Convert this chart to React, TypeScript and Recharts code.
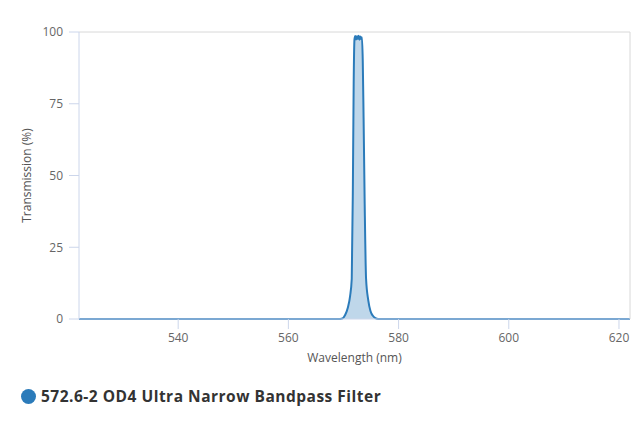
import {
  ComposedChart,
  Area,
  XAxis,
  YAxis,
  ReferenceLine,
  Label,
} from "recharts";

const wavelength = [
  522, 540, 560, 569.0, 569.8, 570.3, 570.8, 571.2, 571.5, 571.7, 571.85, 572.0,
  572.15, 572.3, 572.45, 572.6, 572.75, 572.9, 573.05, 573.2, 573.35, 573.5,
  573.65, 573.85, 574.1, 574.5, 574.9, 575.3, 575.8, 576.3, 580, 600, 622,
];
const transmission = [
  0, 0, 0, 0, 0.2, 1.4, 4, 8, 14, 45, 82, 97.5,
  98.6, 97.4, 98.5, 97.6, 98.7, 97.3, 98.4, 97.6, 98.2, 90,
  70, 40, 14, 6.5, 2.8, 1.2, 0.3, 0, 0, 0, 0,
];
const xTicks = [540, 560, 580, 600, 620];
const yTicks = [0, 25, 50, 75, 100];
const seriesName = "572.6-2 OD4 Ultra Narrow Bandpass Filter";

const data = wavelength.map((w, i) => ({ w, t: transmission[i] }));

const color = "#2b7bba";

export default function App() {
  return (
    <div style={{ position: "absolute", left: 0, top: 0, width: 640, height: 427, background: "#fff" }}>
      <ComposedChart
        width={640}
        height={369}
        data={data}
        margin={{ top: 32, right: 10, left: 0, bottom: 0 }}
        style={{ fontFamily: "'Open Sans', sans-serif" }}
      >
        <XAxis
          dataKey="w"
          type="number"
          domain={[522, 622]}
          ticks={xTicks}
          allowDataOverflow
          height={50}
          tickSize={10}
          tickMargin={4}
          stroke="#ccd6eb"
          tick={{ fill: "#666", fontSize: 12 }}
        >
          <Label
            value="Wavelength (nm)"
            position="insideBottom"
            offset={7}
            style={{ fill: "#555", fontSize: 12 }}
          />
        </XAxis>
        <YAxis
          type="number"
          domain={[0, 100]}
          ticks={yTicks}
          width={79}
          tickSize={10}
          tickMargin={6}
          stroke="#ccd6eb"
          tick={{ fill: "#666", fontSize: 12 }}
        >
          <Label
            value="Transmission (%)"
            angle={-90}
            position="insideLeft"
            offset={27}
            style={{ fill: "#555", fontSize: 12, textAnchor: "middle" }}
          />
        </YAxis>
        <ReferenceLine y={100} stroke="#d8d8d8" />
        <ReferenceLine x={622} stroke="#d8d8d8" />
        <Area
          type="monotone"
          dataKey="t"
          name={seriesName}
          stroke={color}
          strokeWidth={2}
          fill={color}
          fillOpacity={0.3}
          dot={false}
          isAnimationActive={false}
        />
      </ComposedChart>
      <div
        style={{
          position: "absolute",
          left: 21,
          top: 385,
          display: "flex",
          alignItems: "center",
          fontFamily: "'Open Sans', sans-serif",
          fontWeight: 700,
          fontSize: 15.5,
          letterSpacing: 0.5,
          color: "#333",
        }}
      >
        <span
          style={{
            width: 15,
            height: 15,
            borderRadius: "50%",
            background: color,
            display: "inline-block",
            marginRight: 5,
          }}
        />
        {seriesName}
      </div>
    </div>
  );
}
